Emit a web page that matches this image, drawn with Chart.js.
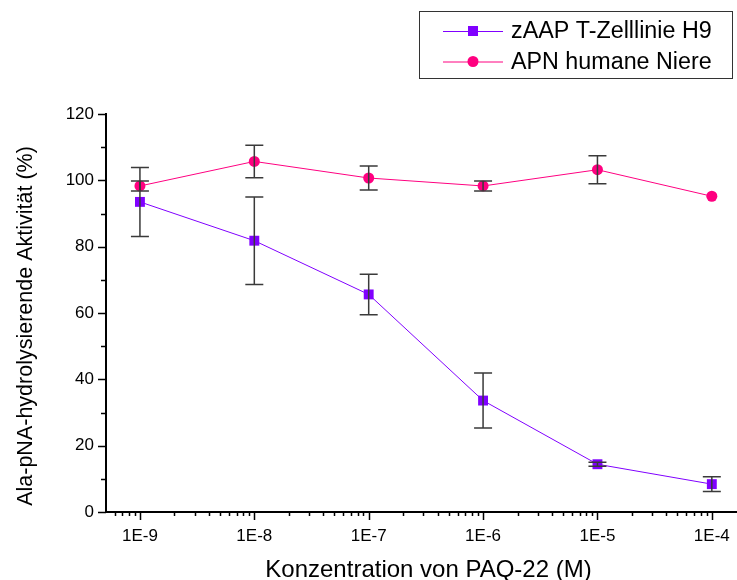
<!DOCTYPE html>
<html>
<head>
<meta charset="utf-8">
<script src="https://cdn.jsdelivr.net/npm/chart.js@4/dist/chart.umd.min.js"></script>
<style>
  html, body { margin: 0; padding: 0; background: #fff; }
  #wrap { width: 737px; height: 580px; }
</style>
</head>
<body>
<div id="wrap"><canvas id="chart" width="737" height="580"></canvas></div>
<script>
// values
const concentrations = [1e-9, 1e-8, 1e-7, 1e-6, 1e-5, 1e-4];
const zaapValues = [93.5, 81.8, 65.6, 33.6, 14.4, 8.4];
const zaapErrors = [10.4, 13.2, 6.1, 8.3, 0.6, 2.2];
const apnValues = [98.3, 105.7, 100.7, 98.3, 103.2, 95.2];
const apnErrors = [1.5, 4.9, 3.6, 1.5, 4.2, 0];
const seriesLabels = ['zAAP T-Zelllinie H9', 'APN humane Niere'];
const yTicks = [0, 20, 40, 60, 80, 100, 120];
const yTitle = 'Ala-pNA-hydrolysierende Aktivität (%)';
const xTitle = 'Konzentration von PAQ-22 (M)';

const PURPLE = '#8000ff';
const PINK = '#ff0080';
const FONT = 'Liberation Sans, Arial, sans-serif';

function points(vals) {
  return concentrations.map((c, i) => ({ x: c, y: vals[i] }));
}

// error bars on top of the data
const errorBars = {
  id: 'errorBars',
  afterDatasetsDraw(chart) {
    const { ctx, scales } = chart;
    const errs = [zaapErrors, apnErrors];
    ctx.save();
    ctx.strokeStyle = '#3a3a3a';
    ctx.lineWidth = 1.5;
    chart.data.datasets.forEach((ds, di) => {
      ds.data.forEach((p, i) => {
        const e = errs[di][i];
        if (!e) return;
        const x = scales.x.getPixelForValue(p.x);
        const y1 = scales.y.getPixelForValue(p.y + e);
        const y2 = scales.y.getPixelForValue(p.y - e);
        ctx.beginPath();
        ctx.moveTo(x, y1); ctx.lineTo(x, y2);
        ctx.moveTo(x - 9, y1); ctx.lineTo(x + 9, y1);
        ctx.moveTo(x - 9, y2); ctx.lineTo(x + 9, y2);
        ctx.stroke();
      });
    });
    ctx.restore();
  }
};

// major / minor tick marks and both axis titles
const axisExtras = {
  id: 'axisExtras',
  afterDraw(chart) {
    const { ctx, scales } = chart;
    ctx.save();
    ctx.strokeStyle = '#000';
    ctx.lineWidth = 1.5;
    ctx.beginPath();
    const ax = scales.y.right;
    scales.y.ticks.forEach(t => {
      const y = Math.round(scales.y.getPixelForValue(t.value)) + 0.5;
      const len = t.value % 20 === 0 ? 8 : 5;
      ctx.moveTo(ax, y); ctx.lineTo(ax - len, y);
    });
    const ay = scales.x.top;
    scales.x.ticks.forEach(t => {
      const x = Math.round(scales.x.getPixelForValue(t.value)) + 0.5;
      const len = t.major ? 8 : 4;
      ctx.moveTo(x, ay); ctx.lineTo(x, ay + len);
    });
    ctx.stroke();

    ctx.fillStyle = '#000';
    ctx.textAlign = 'center';
    ctx.font = '24px ' + FONT;
    ctx.textBaseline = 'alphabetic';
    ctx.fillText(xTitle, 428.5, 577);

    ctx.translate(26, 326);
    ctx.rotate(-Math.PI / 2);
    ctx.font = '21.5px ' + FONT;
    ctx.textBaseline = 'middle';
    ctx.fillText(yTitle, 0, 0);
    ctx.restore();
  }
};

// boxed legend with line + marker samples
const boxLegend = {
  id: 'boxLegend',
  afterDraw(chart) {
    const { ctx } = chart;
    ctx.save();
    ctx.strokeStyle = '#333';
    ctx.lineWidth = 1;
    ctx.strokeRect(419.5, 11.5, 313, 67);
    ctx.font = '23.3px ' + FONT;
    ctx.textBaseline = 'middle';
    chart.data.datasets.forEach((ds, i) => {
      const y = 31 + i * 30.5;
      ctx.strokeStyle = ds.borderColor;
      ctx.beginPath();
      ctx.moveTo(443, y + 0.5); ctx.lineTo(503, y + 0.5);
      ctx.stroke();
      ctx.fillStyle = ds.pointBackgroundColor;
      if (ds.pointStyle === 'rect') {
        ctx.fillRect(468, y - 5, 10, 10);
      } else {
        ctx.beginPath();
        ctx.arc(473, y, 5.5, 0, Math.PI * 2);
        ctx.fill();
      }
      ctx.fillStyle = '#000';
      ctx.fillText(ds.label, 511, y + 1);
    });
    ctx.restore();
  }
};

new Chart(document.getElementById('chart'), {
  type: 'line',
  data: {
    datasets: [{
      label: seriesLabels[0],
      data: points(zaapValues),
      borderColor: PURPLE,
      borderWidth: 1,
      pointStyle: 'rect',
      pointRadius: 7,
      pointBackgroundColor: PURPLE,
      pointBorderWidth: 0
    }, {
      label: seriesLabels[1],
      data: points(apnValues),
      borderColor: PINK,
      borderWidth: 1,
      pointStyle: 'circle',
      pointRadius: 5.5,
      pointBackgroundColor: PINK,
      pointBorderWidth: 0
    }]
  },
  options: {
    responsive: false,
    animation: false,
    layout: { autoPadding: false, padding: { top: 114, right: 0, left: 0, bottom: 0 } },
    plugins: { legend: { display: false }, tooltip: { enabled: false } },
    scales: {
      x: {
        type: 'logarithmic',
        min: 5.05e-10,
        max: 1.66e-4,
        afterBuildTicks(scale) {
          const ticks = [];
          for (let d = -10; d <= -4; d++) {
            for (let k = 1; k <= 9; k++) {
              const v = Number(k + 'e' + d);
              if (v >= scale.min && v <= scale.max) ticks.push({ value: v, major: k === 1 });
            }
          }
          scale.ticks = ticks;
        },
        afterFit(scale) {
          scale.height = 68;
          scale.paddingLeft = 0;
          scale.paddingRight = 0;
        },
        grid: { display: false, drawTicks: false, tickLength: 0 },
        border: { display: true, color: '#000', width: 2 },
        ticks: {
          autoSkip: false,
          maxRotation: 0,
          padding: 14,
          color: '#000',
          font: { family: FONT, size: 17 },
          callback(value, index, ticks) {
            return ticks[index].major ? '1E' + Math.round(Math.log10(value)) : '';
          }
        }
      },
      y: {
        min: 0,
        max: 120,
        afterFit(scale) { scale.width = 106; },
        grid: { display: false, drawTicks: false, tickLength: 0 },
        border: { display: true, color: '#000', width: 2 },
        ticks: {
          stepSize: 10,
          padding: 12,
          color: '#000',
          font: { family: FONT, size: 17 },
          callback(value) { return yTicks.includes(value) ? value : ''; }
        }
      }
    }
  },
  plugins: [errorBars, axisExtras, boxLegend]
});
</script>
</body>
</html>
